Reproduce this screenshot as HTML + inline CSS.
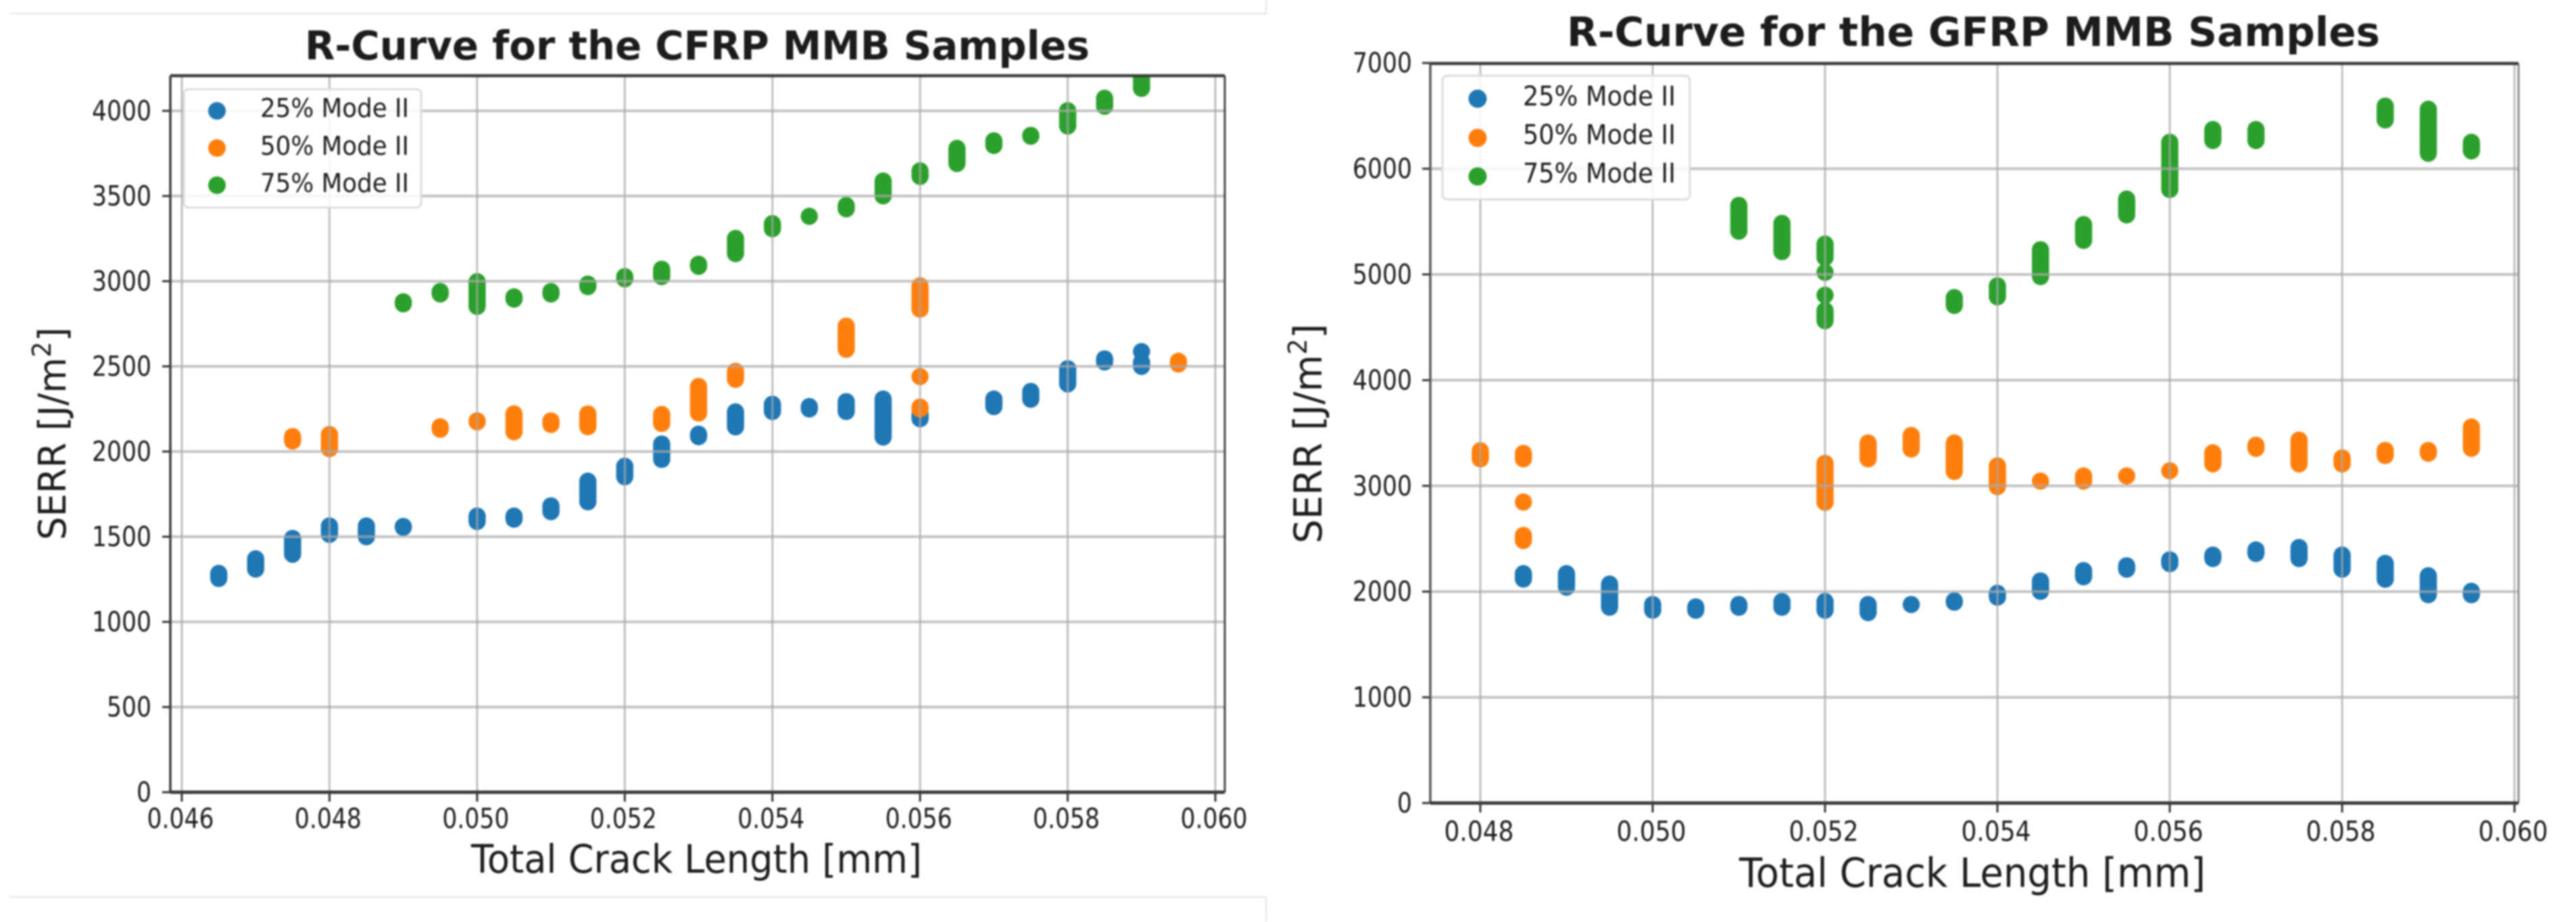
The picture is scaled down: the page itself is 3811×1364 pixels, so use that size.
<!DOCTYPE html>
<html lang="en">
<head>
<meta charset="utf-8">
<title>R-Curve for CFRP and GFRP MMB Samples</title>
<style>
html,body{margin:0;padding:0;background:#fff;width:3811px;height:1364px;overflow:hidden}
svg{display:block;filter:blur(1.3px)}
text{font-family:"DejaVu Sans","Liberation Sans",sans-serif;fill:#1c1c1c}
</style>
</head>
<body>
<svg id="figure" width="3811" height="1364" viewBox="0 0 3811 1364" xmlns="http://www.w3.org/2000/svg">
  <defs>
    <clipPath id="clip-cfrp"><rect x="252" y="112" width="1560" height="1060"/></clipPath>
    <clipPath id="clip-gfrp"><rect x="2116" y="94" width="1610" height="1094"/></clipPath>
  </defs>
  <rect x="0" y="0" width="3811" height="1364" fill="#ffffff"/>
  <path d="M15 20H1873V0" fill="none" stroke="#e2e2e2" stroke-width="2"/>
  <path d="M15 1327H1873V1364" fill="none" stroke="#e2e2e2" stroke-width="2"/>

  <g id="chart-cfrp">
    <g id="cfrp-points" clip-path="url(#clip-cfrp)"></g>
    <g id="cfrp-grid"></g>
    <g id="cfrp-axes"></g>
    <text x="451" y="88" font-size="59" font-weight="bold" textLength="1161" lengthAdjust="spacingAndGlyphs">R-Curve for the CFRP MMB Samples</text>
    <text x="697" y="1291" font-size="58" textLength="667" lengthAdjust="spacingAndGlyphs">Total Crack Length [mm]</text>
    <text transform="translate(97,799) rotate(-90)" x="0" y="0" font-size="56" textLength="315" lengthAdjust="spacingAndGlyphs">SERR [J/m<tspan dy="-22" font-size="38">2</tspan><tspan dy="22">]</tspan></text>
    <g>
      <rect x="272" y="132" width="351" height="175" rx="7" fill="#ffffff" fill-opacity="0.85" stroke="#dcdcdc" stroke-width="3"/>
      <circle cx="321" cy="164" r="13" fill="#1f77b4"/>
      <circle cx="321" cy="219" r="13" fill="#ff7f0e"/>
      <circle cx="321" cy="274" r="13" fill="#2ca02c"/>
      <text x="385" y="173" font-size="38" textLength="220" lengthAdjust="spacingAndGlyphs">25% Mode II</text>
      <text x="385" y="229" font-size="38" textLength="220" lengthAdjust="spacingAndGlyphs">50% Mode II</text>
      <text x="385" y="284" font-size="38" textLength="220" lengthAdjust="spacingAndGlyphs">75% Mode II</text>
    </g>
  </g>

  <g id="chart-gfrp">
    <g id="gfrp-points" clip-path="url(#clip-gfrp)"></g>
    <g id="gfrp-grid"></g>
    <g id="gfrp-axes"></g>
    <text x="2318" y="68" font-size="60" font-weight="bold" textLength="1203" lengthAdjust="spacingAndGlyphs">R-Curve for the GFRP MMB Samples</text>
    <text x="2573" y="1312" font-size="60" textLength="690" lengthAdjust="spacingAndGlyphs">Total Crack Length [mm]</text>
    <text transform="translate(1955,804) rotate(-90)" x="0" y="0" font-size="57" textLength="325" lengthAdjust="spacingAndGlyphs">SERR [J/m<tspan dy="-22" font-size="38">2</tspan><tspan dy="22">]</tspan></text>
    <g>
      <rect x="2134" y="112" width="366" height="183" rx="7" fill="#ffffff" fill-opacity="0.85" stroke="#dcdcdc" stroke-width="3"/>
      <circle cx="2186" cy="146" r="13.5" fill="#1f77b4"/>
      <circle cx="2186" cy="204" r="13.5" fill="#ff7f0e"/>
      <circle cx="2186" cy="261" r="13.5" fill="#2ca02c"/>
      <text x="2253" y="156" font-size="40" textLength="226" lengthAdjust="spacingAndGlyphs">25% Mode II</text>
      <text x="2253" y="213" font-size="40" textLength="226" lengthAdjust="spacingAndGlyphs">50% Mode II</text>
      <text x="2253" y="270" font-size="40" textLength="226" lengthAdjust="spacingAndGlyphs">75% Mode II</text>
    </g>
  </g>
</svg>

<script>
// Tick values and labels
const cfrpXTicks = [0.046, 0.048, 0.050, 0.052, 0.054, 0.056, 0.058, 0.060];
const cfrpXTickLabels = ["0.046", "0.048", "0.050", "0.052", "0.054", "0.056", "0.058", "0.060"];
const cfrpYTicks = [0, 500, 1000, 1500, 2000, 2500, 3000, 3500, 4000];
const gfrpXTicks = [0.048, 0.050, 0.052, 0.054, 0.056, 0.058, 0.060];
const gfrpXTickLabels = ["0.048", "0.050", "0.052", "0.054", "0.056", "0.058", "0.060"];
const gfrpYTicks = [0, 1000, 2000, 3000, 4000, 5000, 6000, 7000];

// CFRP chart, 25% Mode II
const cfrp25Crack = [0.0465, 0.047, 0.0475, 0.048, 0.0485, 0.049, 0.050, 0.0505, 0.051, 0.0515, 0.052, 0.0525, 0.053, 0.0535, 0.054, 0.0545, 0.055, 0.0555, 0.056, 0.057, 0.0575, 0.058, 0.0585, 0.059];
const cfrp25Serr = [[1255,1285],[1310,1340,1370],[1397,1440,1490],[1514,1540,1563],[1500,1535,1563],[1555,1560],[1589,1621],[1603,1621],[1647,1681],[1705,1745,1785,1826],[1852,1885,1914],[1954,2000,2044],[2087,2102],[2145,2190,2233],[2235,2258,2278],[2250,2264],[2235,2265,2293],[2085,2130,2175,2220,2265,2308],[2193,2220],[2264,2286,2308],[2307,2330,2353],[2397,2440,2486],[2526,2544],[2500,2525,2587]];

// CFRP chart, 50% Mode II
const cfrp50Crack = [0.0475, 0.048, 0.0495, 0.050, 0.0505, 0.051, 0.0515, 0.0525, 0.053, 0.0535, 0.055, 0.056, 0.0595];
const cfrp50Serr = [[2062,2088],[2017,2060,2100],[2131,2145],[2174,2180],[2116,2150,2190,2221],[2159,2180],[2146,2185,2221],[2165,2195,2218],[2226,2265,2305,2345,2382],[2424,2450,2471],[2600,2645,2690,2736],[2250,2261,2440,2836,2880,2925,2973],[2514,2530]];

// CFRP chart, 75% Mode II
const cfrp75Crack = [0.049, 0.0495, 0.050, 0.0505, 0.051, 0.0515, 0.052, 0.0525, 0.053, 0.0535, 0.054, 0.0545, 0.055, 0.0555, 0.056, 0.0565, 0.057, 0.0575, 0.058, 0.0585, 0.059];
const cfrp75Serr = [[2867,2879],[2925,2939],[2852,2900,2950,2997],[2895,2908],[2925,2939],[2968,2983],[3014,3027],[3027,3050,3070],[3087,3100],[3162,3205,3251],[3308,3338],[3381],[3425,3444],[3501,3545,3588],[3615,3648],[3691,3735,3780],[3797,3824],[3851,3856],[3911,3955,4001],[4027,4050,4074],[4132,4170,4215]];

// GFRP chart, 25% Mode II
const gfrp25Crack = [0.0485, 0.049, 0.0495, 0.050, 0.0505, 0.051, 0.0515, 0.052, 0.0525, 0.053, 0.0535, 0.054, 0.0545, 0.055, 0.0555, 0.056, 0.0565, 0.057, 0.0575, 0.058, 0.0585, 0.059, 0.0595];
const gfrp25Serr = [[2119,2170],[2042,2105,2170],[1852,1925,2000,2071],[1824,1878],[1824,1855],[1852,1878],[1852,1906],[1824,1865,1906],[1801,1840,1878],[1878],[1900,1912],[1948,1984],[2003,2050,2101],[2140,2199],[2212,2244],[2264,2300],[2313,2345],[2361,2394],[2313,2365,2417],[2212,2280,2345],[2117,2190,2267],[1971,2030,2090,2150],[1971,2003]];

// GFRP chart, 50% Mode II
const gfrp50Crack = [0.048, 0.0485, 0.052, 0.0525, 0.053, 0.0535, 0.054, 0.0545, 0.055, 0.0555, 0.056, 0.0565, 0.057, 0.0575, 0.058, 0.0585, 0.059, 0.0595];
const gfrp50Serr = [[3256,3295,3332],[3256,3307,2847,2483,2531],[2844,2910,2985,3060,3135,3213],[3256,3330,3406],[3349,3415,3477],[3136,3200,3270,3340,3406],[2993,3060,3125,3189],[3045],[3045,3094],[3094],[3143],[3208,3260,3313],[3355,3384],[3208,3275,3350,3433],[3208,3264],[3287,3335],[3309,3335],[3355,3420,3490,3557]];

// GFRP chart, 75% Mode II
const gfrp75Crack = [0.051, 0.0515, 0.052, 0.0535, 0.054, 0.0545, 0.055, 0.0555, 0.056, 0.0565, 0.057, 0.0585, 0.059, 0.0595];
const gfrp75Serr = [[5409,5490,5570,5653],[5216,5300,5390,5483],[5020,5160,5220,5287,4562,4600,4659,4804],[4707,4781],[4788,4840,4892],[4980,5065,5150,5234],[5322,5400,5472],[5563,5640,5713],[5804,5880,5955,6030,6105,6180,6250],[6267,6320,6371],[6267,6320,6371],[6462,6530,6592],[6146,6215,6285,6355,6425,6495,6563],[6169,6250]];

const NS = 'http://www.w3.org/2000/svg';
const SERIES_COLORS = ['#1f77b4', '#ff7f0e', '#2ca02c'];
const JOIN_GAP_PX = 15;

function scaleLinear(d0, d1, r0, r1) {
  return function (v) { return r0 + (v - d0) * (r1 - r0) / (d1 - d0); };
}

function drawChart(key, cfg) {
  const xs = scaleLinear(cfg.xDomain[0], cfg.xDomain[1], cfg.xRange[0], cfg.xRange[1]);
  const ys = scaleLinear(cfg.yDomain[0], cfg.yDomain[1], cfg.yRange[0], cfg.yRange[1]);
  const points = document.getElementById(key + '-points');
  const grid = document.getElementById(key + '-grid');
  const axes = document.getElementById(key + '-axes');
  const L = cfg.box[0], T = cfg.box[1], R = cfg.box[2], B = cfg.box[3];

  // scatter points: overlapping neighbours in a column are joined so the stack has flat sides
  cfg.series.forEach(function (s, si) {
    s.crack.forEach(function (cx, ci) {
      const px = xs(cx);
      const pys = s.serr[ci].map(ys).sort(function (a, b) { return a - b; });
      pys.forEach(function (py, pi) {
        const c = document.createElementNS(NS, 'circle');
        
        
        c.setAttribute('cx', px);
        c.setAttribute('cy', py);
        c.setAttribute('r', cfg.r);
        c.setAttribute('fill', SERIES_COLORS[si]);
        points.appendChild(c);
        if (pi > 0 && py - pys[pi - 1] <= JOIN_GAP_PX) {
          const j = document.createElementNS(NS, 'rect');
          
          
          j.setAttribute('x', px - cfg.r);
          j.setAttribute('y', pys[pi - 1]);
          j.setAttribute('width', cfg.r * 2);
          j.setAttribute('height', py - pys[pi - 1]);
          j.setAttribute('fill', SERIES_COLORS[si]);
          points.appendChild(j);
        }
      });
    });
  });

  // vertical grid, x ticks, x labels
  cfg.xTicks.forEach(function (t, i) {
    const px = xs(t);
    const g = document.createElementNS(NS, 'line');
    
    
    g.setAttribute('x1', px); g.setAttribute('x2', px);
    g.setAttribute('y1', T); g.setAttribute('y2', B);
    g.setAttribute('stroke', '#a8a8a8');
    g.setAttribute('stroke-opacity', '0.75');
    g.setAttribute('stroke-width', '3');
    grid.appendChild(g);

    const tick = document.createElementNS(NS, 'line');
    
    
    tick.setAttribute('x1', px); tick.setAttribute('x2', px);
    tick.setAttribute('y1', B); tick.setAttribute('y2', B + 14);
    tick.setAttribute('stroke', '#333');
    tick.setAttribute('stroke-width', '3');
    axes.appendChild(tick);

    const lab = document.createElementNS(NS, 'text');
    
    
    lab.setAttribute('x', px - cfg.xLabelW / 2 - 2);
    lab.setAttribute('y', cfg.xLabelY);
    lab.setAttribute('font-size', '41');
    lab.setAttribute('textLength', cfg.xLabelW);
    lab.setAttribute('lengthAdjust', 'spacingAndGlyphs');
    lab.textContent = cfg.xTickLabels[i];
    axes.appendChild(lab);
  });

  // horizontal grid, y ticks, y labels
  cfg.yTicks.forEach(function (t) {
    const py = ys(t);
    const g = document.createElementNS(NS, 'line');
    
    
    g.setAttribute('x1', L); g.setAttribute('x2', R);
    g.setAttribute('y1', py); g.setAttribute('y2', py);
    g.setAttribute('stroke', '#aaaaaa');
    g.setAttribute('stroke-opacity', '0.7');
    g.setAttribute('stroke-width', '4');
    grid.appendChild(g);

    const tick = document.createElementNS(NS, 'line');
    
    
    tick.setAttribute('x1', L - 12); tick.setAttribute('x2', L);
    tick.setAttribute('y1', py); tick.setAttribute('y2', py);
    tick.setAttribute('stroke', '#333');
    tick.setAttribute('stroke-width', '3');
    axes.appendChild(tick);

    const label = String(t);
    const w = 22 * label.length;
    const lab = document.createElementNS(NS, 'text');
    
    
    lab.setAttribute('x', cfg.yLabelRight - w);
    lab.setAttribute('y', py + 14);
    lab.setAttribute('font-size', '41');
    lab.setAttribute('textLength', w);
    lab.setAttribute('lengthAdjust', 'spacingAndGlyphs');
    lab.textContent = label;
    axes.appendChild(lab);
  });

  // spines
  [
    ['spine-left', L, T, L, B, cfg.spineColors[0], 3.5],
    ['spine-right', R, T, R, B, cfg.spineColors[1], 3],
    ['spine-top', L, T, R, T, '#3a3a3a', 4.5],
    ['spine-bottom', L, B, R, B, '#3a3a3a', 5]
  ].forEach(function (sp) {
    const l = document.createElementNS(NS, 'line');
    
    
    l.setAttribute('x1', sp[1]); l.setAttribute('y1', sp[2]);
    l.setAttribute('x2', sp[3]); l.setAttribute('y2', sp[4]);
    l.setAttribute('stroke', sp[5]);
    l.setAttribute('stroke-width', sp[6]);
    axes.appendChild(l);
  });
}

drawChart('cfrp', {
  xDomain: [0.046, 0.060], xRange: [269, 1798],
  yDomain: [0, 4200], yRange: [1172, 113.6],
  box: [252, 112, 1812, 1172],
  r: 12.7,
  xTicks: cfrpXTicks, xTickLabels: cfrpXTickLabels, yTicks: cfrpYTicks,
  xLabelW: 99, xLabelY: 1225, yLabelRight: 224,
  spineColors: ['#3a3a3a', '#444444'],
  series: [
    { crack: cfrp25Crack, serr: cfrp25Serr },
    { crack: cfrp50Crack, serr: cfrp50Serr },
    { crack: cfrp75Crack, serr: cfrp75Serr }
  ]
});

drawChart('gfrp', {
  xDomain: [0.048, 0.060], xRange: [2190, 3720],
  yDomain: [0, 7000], yRange: [1188, 93.2],
  box: [2116, 94, 3726, 1188],
  r: 12.7,
  xTicks: gfrpXTicks, xTickLabels: gfrpXTickLabels, yTicks: gfrpYTicks,
  xLabelW: 103, xLabelY: 1244, yLabelRight: 2089,
  spineColors: ['#555555', '#8a8a8a'],
  series: [
    { crack: gfrp25Crack, serr: gfrp25Serr },
    { crack: gfrp50Crack, serr: gfrp50Serr },
    { crack: gfrp75Crack, serr: gfrp75Serr }
  ]
});
</script>
</body>
</html>
